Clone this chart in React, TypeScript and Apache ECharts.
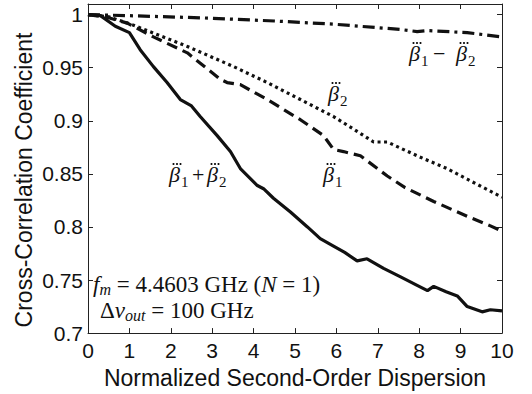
import React, { useEffect, useRef } from "react";
import * as echarts from "echarts";

// beta1 + beta2 (solid)
const xSum = [0, 0.3, 0.66, 1.0, 1.26, 1.58, 1.91, 2.23, 2.5, 2.71, 3.12, 3.44, 3.68, 4.09, 4.24, 4.48, 4.89, 5.3, 5.61, 5.93, 6.2, 6.5, 6.74, 7.14, 7.55, 7.95, 8.2, 8.35, 8.65, 8.92, 9.16, 9.52, 9.72, 10];
const ySum = [1.0, 0.999, 0.989, 0.983, 0.967, 0.951, 0.936, 0.92, 0.914, 0.904, 0.886, 0.871, 0.855, 0.839, 0.836, 0.827, 0.814, 0.8, 0.789, 0.782, 0.776, 0.768, 0.77, 0.761, 0.753, 0.745, 0.74, 0.744, 0.739, 0.735, 0.725, 0.72, 0.722, 0.721];

// beta1 (dashed)
const xB1 = [0, 0.5, 0.95, 1.58, 2.4, 3.2, 3.36, 3.68, 4.33, 5.13, 5.69, 5.93, 6.17, 6.58, 7.23, 7.66, 8.35, 9.16, 9.72, 10];
const yB1 = [1.0, 0.997, 0.992, 0.979, 0.964, 0.939, 0.936, 0.934, 0.92, 0.901, 0.886, 0.873, 0.871, 0.867, 0.848, 0.837, 0.824, 0.81, 0.801, 0.796];

// beta2 (dotted)
const xB2 = [0, 0.5, 1.1, 2.4, 3.52, 4.33, 5.13, 5.93, 6.42, 6.9, 7.23, 7.95, 8.67, 9.16, 10];
const yB2 = [1.0, 0.998, 0.99, 0.97, 0.951, 0.936, 0.92, 0.904, 0.892, 0.88, 0.88, 0.867, 0.855, 0.845, 0.828];

// beta1 - beta2 (dash-dot)
const xDiff = [0, 1.0, 2.7, 4.5, 5.93, 7.55, 7.95, 8.2, 9.16, 10];
const yDiff = [1.0, 0.999, 0.997, 0.994, 0.991, 0.986, 0.984, 0.985, 0.983, 0.979];

const yTicks = [0.7, 0.75, 0.8, 0.85, 0.9, 0.95, 1];

const SANS = "'Liberation Sans', Arial, sans-serif";
const SERIF = "'Liberation Serif', 'Times New Roman', serif";
const INK = "#111";

const pairs = (xs: number[], ys: number[]) => xs.map((x, i) => [x, ys[i]]);

// central baseline offset for 'middle' vertical align (fraction of font size)
const MID = 0.3375;

function txt(s: string, x: number, baseline: number, size: number, italic = false) {
  return {
    type: "text",
    x,
    y: baseline - MID * size,
    style: {
      text: s,
      fontFamily: SERIF,
      fontSize: size,
      fontStyle: italic ? "italic" : "normal",
      fill: INK,
      textAlign: "left",
      textVerticalAlign: "middle",
    },
  };
}

function beta(x: number, baseline: number, sub: string) {
  const els: any[] = [txt("\u03B2", x, baseline, 22, true), txt(sub, x + 12, baseline + 5, 15)];
  [4.5, 8, 11.5].forEach((dx) => {
    els.push({
      type: "circle",
      shape: { cx: x + dx, cy: baseline - 18, r: 1.05 },
      style: { fill: INK },
    });
  });
  return els;
}

export default function App() {
  const ref = useRef<HTMLDivElement>(null);
  useEffect(() => {
    if (!ref.current) return;
    const chart = echarts.init(ref.current, undefined, { renderer: "svg" });
    const axisCommon = {
      axisLine: { show: true, onZero: false, lineStyle: { color: "#222", width: 1 } },
      axisTick: { show: true, inside: true, length: 5, lineStyle: { color: "#222" } },
      splitLine: { show: false },
    };
    const subRich = {
      i: { fontFamily: SERIF, fontStyle: "italic", fontSize: 23, lineHeight: 26, verticalAlign: "middle", fill: INK },
      t: { fontFamily: SERIF, fontSize: 23, lineHeight: 26, verticalAlign: "middle", fill: INK },
      s: { fontFamily: SERIF, fontStyle: "italic", fontSize: 16, lineHeight: 12, verticalAlign: "bottom", fill: INK },
    };
    const graphics: any[] = [
      // beta1 + beta2
      ...beta(169, 182, "1"),
      txt("+", 192, 182, 22),
      ...beta(207, 182, "2"),
      // beta1
      ...beta(323, 182, "1"),
      // beta2
      ...beta(328, 101, "2"),
      // beta1 - beta2
      ...beta(409, 61, "1"),
      txt("\u2212", 433, 61, 22),
      ...beta(456, 61, "2"),
      {
        type: "text", x: 93, y: 271,
        style: { text: "{i|f}{s|m}{t| = 4.4603 GHz (}{i|N}{t| = 1)}", rich: subRich },
      },
      {
        type: "text", x: 100, y: 297,
        style: { text: "{t|\u0394}{i|v}{s|out}{t| = 100 GHz}", rich: subRich },
      },
      {
        type: "text", x: 24, y: 180, rotation: Math.PI / 2,
        style: {
          text: "Cross-Correlation Coefficient",
          fontFamily: SANS, fontSize: 23, fill: INK,
          textAlign: "center", textVerticalAlign: "middle",
        },
      },
    ];
    chart.setOption({
      animation: false,
      backgroundColor: "#fff",
      grid: { left: 88, right: 30, top: 4, bottom: 59, containLabel: false },
      xAxis: [
        {
          type: "value", min: 0, max: 10, interval: 1, position: "bottom",
          ...axisCommon,
          axisLabel: { color: INK, fontFamily: SANS, fontSize: 21, margin: 7 },
          name: "Normalized Second-Order Dispersion",
          nameLocation: "middle", nameGap: 32,
          nameTextStyle: { color: INK, fontFamily: SANS, fontSize: 23 },
        },
        {
          type: "value", min: 0, max: 10, interval: 1, position: "top",
          ...axisCommon, axisLabel: { show: false },
        },
      ],
      yAxis: [
        {
          type: "value", min: 0.7, max: 1.01, interval: 0.05, position: "left",
          ...axisCommon,
          axisLabel: {
            color: INK, fontFamily: SANS, fontSize: 21, margin: 5, showMaxLabel: false,
            formatter: (v: number) => {
              const r = Math.round(v * 100) / 100;
              return yTicks.some((t) => Math.abs(t - r) < 1e-9) ? String(r) : "";
            },
          },
        },
        {
          type: "value", min: 0.7, max: 1.01, interval: 0.05, position: "right",
          ...axisCommon, axisLabel: { show: false },
        },
      ],
      series: [
        {
          type: "line", data: pairs(xSum, ySum), showSymbol: false,
          lineStyle: { color: INK, width: 3.2, type: "solid" },
        },
        {
          type: "line", data: pairs(xB1, yB1), showSymbol: false,
          lineStyle: { color: INK, width: 3.2, type: [11, 6] },
        },
        {
          type: "line", data: pairs(xB2, yB2), showSymbol: false,
          lineStyle: { color: INK, width: 3.2, type: [3, 3.5] },
        },
        {
          type: "line", data: pairs(xDiff, yDiff), showSymbol: false,
          lineStyle: { color: INK, width: 3.2, type: [12, 5, 3, 5] },
        },
      ],
      graphic: graphics,
    });
    return () => chart.dispose();
  }, []);
  return (
    <div
      ref={ref}
      style={{ position: "fixed", left: 0, top: 0, width: 532, height: 394, background: "#fff" }}
    />
  );
}
